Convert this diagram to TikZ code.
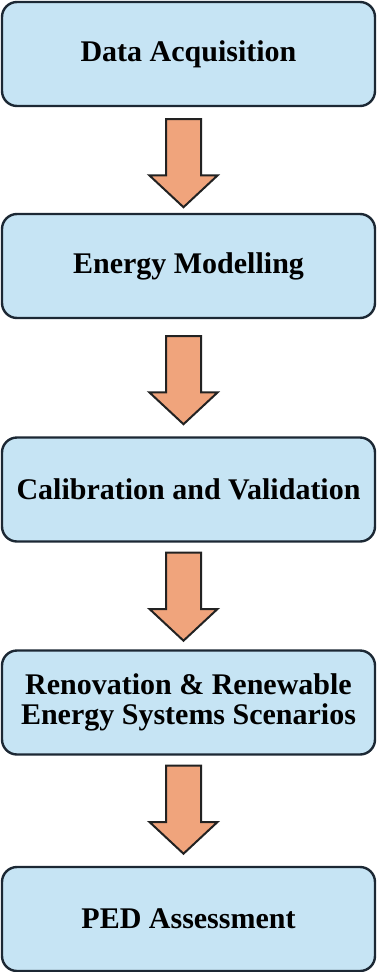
\documentclass[tikz,border=0pt]{standalone}
\usepackage{fontspec}
\setmainfont{Liberation Serif}
\usetikzlibrary{shapes.arrows,calc}
\definecolor{boxfill}{RGB}{198,228,244}
\definecolor{boxline}{RGB}{28,40,52}
\definecolor{arrfill}{RGB}{240,164,124}
\definecolor{arrline}{RGB}{34,34,34}
\tikzset{
  stepbox/.style={draw=boxline, fill=boxfill, line width=2.4pt, rounded corners=15pt,
    minimum width=373pt, minimum height=104pt, inner sep=0pt, align=center,
    font=\bfseries\fontsize{30}{29.5}\selectfont, text=black},
  blockarrow/.style={single arrow, draw=arrline, fill=arrfill, line width=2pt,
    minimum height=88pt, single arrow head extend=16.5pt,
    single arrow tip angle=94, inner xsep=0pt, inner ysep=16.5pt, rotate=-90, anchor=tail}
}
\begin{document}
\begin{tikzpicture}[x=1pt,y=1pt]
\useasboundingbox (0,0) rectangle (377,-972);
\node[stepbox] (b1) at (188.5,-54) {Data Acquisition};
\node[stepbox] (b2) at (188.5,-266) {Energy Modelling};
\node[stepbox] (b3) at (188.5,-489.5) {Calibration and Validation};
\node[stepbox] (b4) at (188.5,-702.5) {Renovation \& Renewable\\Energy Systems Scenarios};
\node[stepbox] (b5) at (188.5,-919) {PED Assessment};
\node[blockarrow] (a1) at ($(b1.south)+(-5,-11)$) {};
\node[blockarrow] (a2) at ($(b2.south)+(-5,-16)$) {};
\node[blockarrow] (a3) at ($(b3.south)+(-5,-9)$) {};
\node[blockarrow] (a4) at ($(b4.south)+(-5,-9)$) {};
\end{tikzpicture}
\end{document}
